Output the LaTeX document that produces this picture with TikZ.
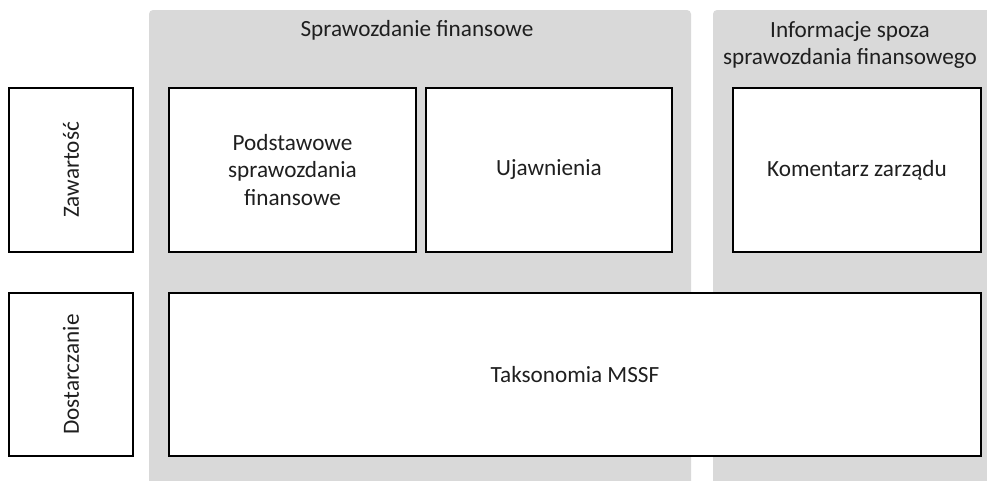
\documentclass[tikz,border=0pt]{standalone}
\usepackage{fontspec}
\setmainfont{Carlito}
\definecolor{panelgray}{HTML}{D9D9D9}
\definecolor{textgray}{HTML}{1F1F1F}
\begin{document}
\begin{tikzpicture}[x=1pt,y=-1pt,
  box/.style={draw=black, line width=2pt, fill=white, rectangle, align=center,
    inner sep=0pt, text=textgray, font=\fontsize{23.2}{27.5}\selectfont},
  lbl/.style={align=center, inner sep=0pt, text=textgray, font=\fontsize{23.2}{27.5}\selectfont},
  panel/.style={fill=panelgray, draw=none, rounded corners=4pt}]
\useasboundingbox (0,0) rectangle (987,480);
\clip (0,0) rectangle (987,480);
\path[panel] (149,10) rectangle (691,495);
\path[panel] (713,10) rectangle (1000,495);
\node[lbl] (t1) at (417,30) {Sprawozdanie finansowe};
\node[lbl] (t2) at (850,45) {Informacje spoza\\sprawozdania finansowego};
\node[box, minimum width=124, minimum height=164] (zaw) at (71,170) {};
\node[lbl, rotate=90] (zawt) at (zaw.center) {Zawartość};
\node[box, minimum width=124, minimum height=163] (dos) at (71,374.5) {};
\node[lbl, rotate=90] (dost) at (dos.center) {Dostarczanie};
\node[box, minimum width=247, minimum height=164] (pod) at (292.5,170) {Podstawowe\\sprawozdania\\finansowe};
\node[box, minimum width=246, minimum height=164] (uja) at (549,170) {Ujawnienia};
\node[box, minimum width=248, minimum height=164] (kom) at (857,170) {Komentarz zarządu};
\node[box, minimum width=812, minimum height=163] (tak) at (575,374.5) {Taksonomia MSSF};
\end{tikzpicture}
\end{document}
